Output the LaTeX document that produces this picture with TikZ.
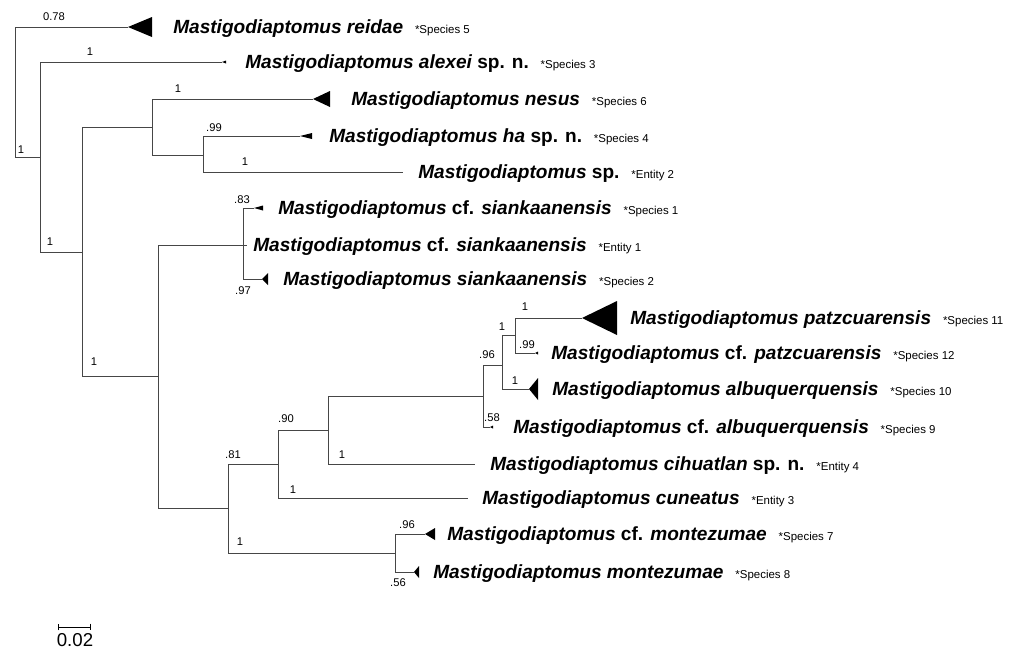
\documentclass[tikz,border=0pt]{standalone}
\usepackage{fontspec}
\setmainfont{Liberation Sans}
\usetikzlibrary{arrows.meta,positioning}
\definecolor{branchgray}{RGB}{70,70,70}
\tikzset{
    branch/.style={line width=0.75pt,branchgray},
    clade/.style={fill=black},
    taxon/.style={anchor=base west,inner sep=0pt,font=\fontsize{14.3}{16}\selectfont\bfseries\itshape},
    tag/.style={anchor=base west,inner sep=0pt,font=\fontsize{8.6}{10}\selectfont},
    support/.style={inner sep=0pt,font=\fontsize{8.4}{10}\selectfont},
    scalebar/.style={line width=0.75pt,black,{Bar[width=5pt]}-{Bar[width=5pt]}}
}
\newcommand{\up}[1]{{\upshape #1}}
\begin{document}
\begin{tikzpicture}[x=0.75pt,y=-0.75pt]
    \useasboundingbox (0,0) rectangle (1024,650);
    % Inner nodes
    \coordinate (root) at (15,92);
    \coordinate (nA) at (40,157);
    \coordinate (nB) at (82,252);
    \coordinate (nC) at (152,127);
    \coordinate (nE) at (203,155);
    \coordinate (nD) at (158,376);
    \coordinate (nF) at (243,245);
    \coordinate (nG) at (228,508);
    \coordinate (nH) at (278,464);
    \coordinate (nI) at (328,430);
    \coordinate (nJ) at (483,396);
    \coordinate (nK) at (502,365);
    \coordinate (nL) at (515,335);
    \coordinate (nM) at (395,553);
    % Tips
    \coordinate (tReidae) at (128,27);
    \coordinate (tAlexei) at (222,62);
    \coordinate (tNesus) at (313,99);
    \coordinate (tHa) at (300,136);
    \coordinate (tEnt2) at (403,172);
    \coordinate (tSp1) at (254,208);
    \coordinate (tEnt1) at (247,245);
    \coordinate (tSp2) at (262,279);
    \coordinate (tPatz) at (582,318);
    \coordinate (tCfPatz) at (535,353);
    \coordinate (tAlbu) at (529,389);
    \coordinate (tCfAlbu) at (490,427);
    \coordinate (tCihu) at (475,464);
    \coordinate (tCune) at (468,498);
    \coordinate (tCfMont) at (425,534);
    \coordinate (tMont) at (414,572);
    % Branches
    \draw[branch] (root) |- (tReidae);
    \draw[branch] (root) |- (nA);
    \draw[branch] (nA) |- (tAlexei);
    \draw[branch] (nA) |- (nB);
    \draw[branch] (nB) |- (nC);
    \draw[branch] (nB) |- (nD);
    \draw[branch] (nC) |- (tNesus);
    \draw[branch] (nC) |- (nE);
    \draw[branch] (nE) |- (tHa);
    \draw[branch] (nE) |- (tEnt2);
    \draw[branch] (nD) |- (nF);
    \draw[branch] (nD) |- (nG);
    \draw[branch] (nF) |- (tSp1);
    \draw[branch] (nF) -- (tEnt1);
    \draw[branch] (nF) |- (tSp2);
    \draw[branch] (nG) |- (nH);
    \draw[branch] (nG) |- (nM);
    \draw[branch] (nH) |- (nI);
    \draw[branch] (nH) |- (tCune);
    \draw[branch] (nI) |- (nJ);
    \draw[branch] (nI) |- (tCihu);
    \draw[branch] (nJ) |- (nK);
    \draw[branch] (nJ) |- (tCfAlbu);
    \draw[branch] (nK) |- (nL);
    \draw[branch] (nK) |- (tAlbu);
    \draw[branch] (nL) |- (tPatz);
    \draw[branch] (nL) |- (tCfPatz);
    \draw[branch] (nM) |- (tCfMont);
    \draw[branch] (nM) |- (tMont);
    % Collapsed clades
    \fill[clade] (tReidae) -- ++(24,-10) -- ++(0,20) -- cycle;
    \fill[clade] (tAlexei) -- ++(4,-1.5) -- ++(0,3) -- cycle;
    \fill[clade] (tNesus) -- ++(17,-8) -- ++(0,16) -- cycle;
    \fill[clade] (tHa) -- ++(12,-3) -- ++(0,6) -- cycle;
    \fill[clade] (tSp1) -- ++(9,-2.5) -- ++(0,5) -- cycle;
    \fill[clade] (tSp2) -- ++(6,-6) -- ++(0,12) -- cycle;
    \fill[clade] (tPatz) -- ++(35,-17) -- ++(0,34) -- cycle;
    \fill[clade] (tCfPatz) -- ++(3,-1.5) -- ++(0,3) -- cycle;
    \fill[clade] (tAlbu) -- ++(9,-11) -- ++(0,22) -- cycle;
    \fill[clade] (tCfAlbu) -- ++(3,-1.5) -- ++(0,3) -- cycle;
    \fill[clade] (tCfMont) -- ++(10,-6) -- ++(0,12) -- cycle;
    \fill[clade] (tMont) -- ++(5,-6) -- ++(0,12) -- cycle;
    % Taxon names
    \node[taxon] (nmReidae) at (173,33) {Mastigodiaptomus reidae};
    \node[taxon] (nmAlexei) at (245,68) {Mastigodiaptomus alexei \up{sp. n.}};
    \node[taxon] (nmNesus) at (351,105) {Mastigodiaptomus nesus};
    \node[taxon] (nmHa) at (329,142) {Mastigodiaptomus ha \up{sp. n.}};
    \node[taxon] (nmEnt2) at (418,178) {Mastigodiaptomus \up{sp.}};
    \node[taxon] (nmSp1) at (278,214) {Mastigodiaptomus \up{cf.} siankaanensis};
    \node[taxon] (nmEnt1) at (253,251) {Mastigodiaptomus \up{cf.} siankaanensis};
    \node[taxon] (nmSp2) at (283,285) {Mastigodiaptomus siankaanensis};
    \node[taxon] (nmPatz) at (630,324) {Mastigodiaptomus patzcuarensis};
    \node[taxon] (nmCfPatz) at (551,359) {Mastigodiaptomus \up{cf.} patzcuarensis};
    \node[taxon] (nmAlbu) at (552,395) {Mastigodiaptomus albuquerquensis};
    \node[taxon] (nmCfAlbu) at (513,433) {Mastigodiaptomus \up{cf.} albuquerquensis};
    \node[taxon] (nmCihu) at (490,470) {Mastigodiaptomus cihuatlan \up{sp. n.}};
    \node[taxon] (nmCune) at (482,504) {Mastigodiaptomus cuneatus};
    \node[taxon] (nmCfMont) at (447,540) {Mastigodiaptomus \up{cf.} montezumae};
    \node[taxon] (nmMont) at (433,578) {Mastigodiaptomus montezumae};
    % Species tags
    \node[right=8.5pt of nmReidae.base east,tag] (tgReidae) {*Species 5};
    \node[right=8.5pt of nmAlexei.base east,tag] (tgAlexei) {*Species 3};
    \node[right=8.5pt of nmNesus.base east,tag] (tgNesus) {*Species 6};
    \node[right=8.5pt of nmHa.base east,tag] (tgHa) {*Species 4};
    \node[right=8.5pt of nmEnt2.base east,tag] (tgEnt2) {*Entity 2};
    \node[right=8.5pt of nmSp1.base east,tag] (tgSp1) {*Species 1};
    \node[right=8.5pt of nmEnt1.base east,tag] (tgEnt1) {*Entity 1};
    \node[right=8.5pt of nmSp2.base east,tag] (tgSp2) {*Species 2};
    \node[right=8.5pt of nmPatz.base east,tag] (tgPatz) {*Species 11};
    \node[right=8.5pt of nmCfPatz.base east,tag] (tgCfPatz) {*Species 12};
    \node[right=8.5pt of nmAlbu.base east,tag] (tgAlbu) {*Species 10};
    \node[right=8.5pt of nmCfAlbu.base east,tag] (tgCfAlbu) {*Species 9};
    \node[right=8.5pt of nmCihu.base east,tag] (tgCihu) {*Entity 4};
    \node[right=8.5pt of nmCune.base east,tag] (tgCune) {*Entity 3};
    \node[right=8.5pt of nmCfMont.base east,tag] (tgCfMont) {*Species 7};
    \node[right=8.5pt of nmMont.base east,tag] (tgMont) {*Species 8};
    % Support values
    \node[support] (bsReidae) at (54,17) {0.78};
    \node[support] (bsRootA) at (21,150) {1};
    \node[support] (bsAlexei) at (90,52) {1};
    \node[support] (bsAB) at (50,242) {1};
    \node[support] (bsNesus) at (178,89) {1};
    \node[support] (bsHa) at (214,128) {.99};
    \node[support] (bsEnt2) at (245,162) {1};
    \node[support] (bsBD) at (94,362) {1};
    \node[support] (bsSp1) at (242,200) {.83};
    \node[support] (bsSp2) at (243,291) {.97};
    \node[support] (bsPatz) at (525,307) {1};
    \node[support] (bsKL) at (502,327) {1};
    \node[support] (bsCfPatz) at (527,345) {.99};
    \node[support] (bsAlbu) at (515,381) {1};
    \node[support] (bsJK) at (487,355) {.96};
    \node[support] (bsCfAlbu) at (492,418) {.58};
    \node[support] (bsHI) at (286,419) {.90};
    \node[support] (bsCihu) at (342,455) {1};
    \node[support] (bsGH) at (233,455) {.81};
    \node[support] (bsCune) at (293,490) {1};
    \node[support] (bsGM) at (240,542) {1};
    \node[support] (bsCfMont) at (407,525) {.96};
    \node[support] (bsMont) at (398,583) {.56};
    % Scale
    \coordinate (sbL) at (58,627);
    \coordinate (sbR) at (91,627);
    \draw[scalebar] (sbL) -- (sbR);
    \node[inner sep=0pt,font=\fontsize{14}{16}\selectfont] (sbText) at (75,640) {0.02};
\end{tikzpicture}
\end{document}
